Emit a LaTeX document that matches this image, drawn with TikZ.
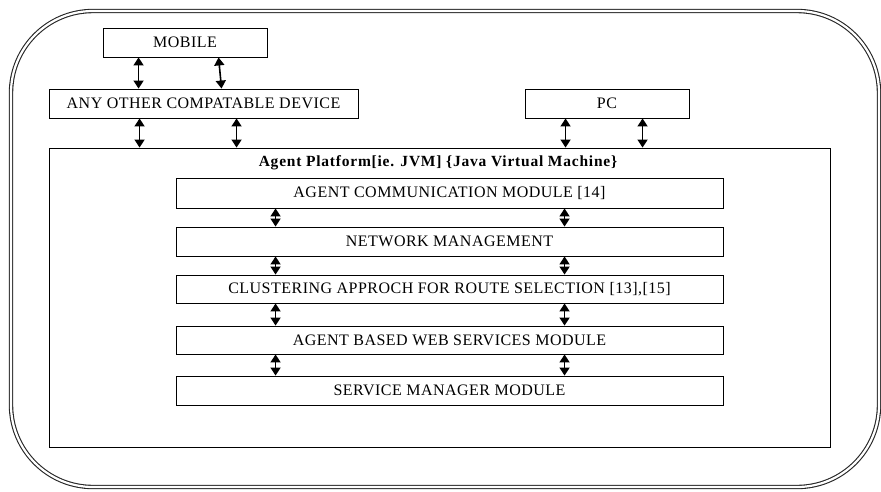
\documentclass[tikz,border=0pt]{standalone}
\usepackage{fontspec}
\setmainfont{Liberation Serif}[LetterSpace=3]
\newfontfamily\headfont{Liberation Serif}[LetterSpace=5]
\usetikzlibrary{arrows.meta}
\begin{document}
\begin{tikzpicture}[x=1pt,y=-1pt,
  box/.style={draw, line width=0.9pt, rectangle, inner sep=0pt,
    font=\fontsize{16}{18}\selectfont},
  link/.style={line width=1.6pt, {Triangle[length=8pt,width=10pt]}-{Triangle[length=8pt,width=10pt]}}]
\useasboundingbox (0,0) rectangle (881,491);
% outer frame: double-lined rounded rectangle
\draw[double, line width=1.1pt, double distance=2.2pt, rounded corners=82pt, black!85]
  (11,11) rectangle (879,487);
% devices
\node[box, minimum width=164pt, minimum height=29pt] (mobile) at (185,42.5) {MOBILE};
\node[box, minimum width=309pt, minimum height=29pt] (any) at (203.5,103.5) {ANY OTHER COMPATABLE DEVICE};
\node[box, minimum width=164pt, minimum height=29pt] (pc) at (607,103.5) {PC};
% agent platform
\node[box, minimum width=781pt, minimum height=299pt] (platform) at (439.5,297.5) {};
\node[font=\headfont\fontsize{15.5}{17}\selectfont\bfseries, anchor=center] (ptitle) at (438,162.5)
  {Agent Platform[ie. JVM] \{Java Virtual Machine\}};
% modules
\node[box, minimum width=547pt, minimum height=30pt] (acm) at (449.5,193) {AGENT COMMUNICATION MODULE [14]};
\node[box, minimum width=547pt, minimum height=29pt] (nm) at (449.5,241.5) {NETWORK MANAGEMENT};
\node[box, minimum width=547pt, minimum height=28pt] (clu) at (449.5,289) {CLUSTERING APPROCH FOR ROUTE SELECTION [13],[15]};
\node[box, minimum width=547pt, minimum height=28pt] (aws) at (449.5,340) {AGENT BASED WEB SERVICES MODULE};
\node[box, minimum width=547pt, minimum height=29pt] (smm) at (449.5,390.5) {SERVICE MANAGER MODULE};
% device links
\draw[link] ([xshift=36pt]mobile.south west) -- ([xshift=90pt]any.north west);
\draw[link] ([xshift=116pt]mobile.south west) -- ([xshift=173pt]any.north west);
\draw[link] ([xshift=91pt]any.south west) -- ([xshift=91pt]platform.north west);
\draw[link] ([xshift=188pt]any.south west) -- ([xshift=188pt]platform.north west);
\draw[link] ([xshift=41pt]pc.south west) -- ([xshift=517pt]platform.north west);
\draw[link] ([xshift=118pt]pc.south west) -- ([xshift=594pt]platform.north west);
% module links
\foreach \a/\b in {acm/nm, nm/clu, clu/aws, aws/smm}{
  \draw[link] ([xshift=100pt]\a.south west) -- ([xshift=100pt]\b.north west);
  \draw[link] ([xshift=389pt]\a.south west) -- ([xshift=389pt]\b.north west);
}
\end{tikzpicture}
\end{document}
